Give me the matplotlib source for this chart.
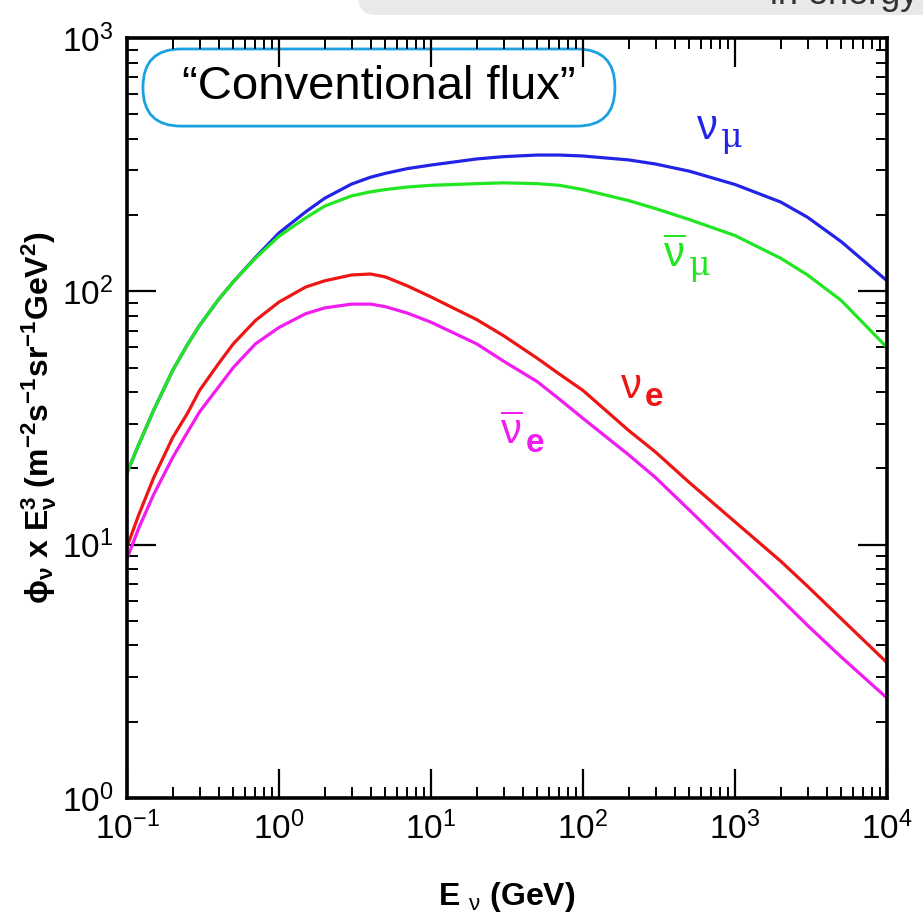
import matplotlib
matplotlib.use("Agg")
import matplotlib.pyplot as plt
from matplotlib import font_manager
from matplotlib.patches import FancyBboxPatch
from matplotlib.ticker import LogLocator, NullFormatter, FixedLocator, FixedFormatter

# neutrino energy grid (GeV)
energy = [0.1, 0.12, 0.15, 0.2, 0.25, 0.3, 0.4, 0.5, 0.7, 1, 1.5, 2, 3, 4, 5, 7, 10, 20, 30,
          50, 70, 100, 200, 300, 500, 1000, 2000, 3000, 5000, 10000]

# E^3 weighted conventional atmospheric flux, m^-2 s^-1 sr^-1 GeV^2
flux_numu = [19.2, 25.0, 34.0, 48.8, 61.6, 73.3, 92.8, 109, 136, 170, 206, 233, 265, 282,
             292, 305, 315, 333, 340, 345, 345, 342, 330, 318, 298, 264, 225, 196, 157, 110]
flux_numubar = [19.2, 25.0, 34.0, 48.8, 61.6, 73.3, 92.8, 109, 135, 165, 195, 217, 238, 247,
                252, 258, 262, 266, 268, 266, 262, 252, 228, 212, 192, 166, 135, 116, 92, 60]
flux_nue = [9.8, 13.2, 18.4, 26.5, 33.0, 40.6, 51.8, 62, 76.7, 90.7, 104, 110, 116, 117,
            114, 105, 95, 77.3, 66.8, 54.4, 47.1, 40.6, 28.2, 23.2, 17.6, 12.3, 8.6, 6.85, 5.1, 3.42]
flux_nuebar = [8.8, 11.7, 15.8, 22.1, 27.8, 33.4, 41.9, 50, 62, 72, 81.6, 86, 89, 89,
               87, 82, 75.5, 62, 53, 44, 37.5, 31.5, 22.6, 18.4, 13.7, 9.15, 6.1, 4.8, 3.6, 2.48]

x_ticks = [0.1, 1, 10, 100, 1000, 10000]
x_ticklabels = [r'$10^{-1}$', r'$10^{0}$', r'$10^{1}$', r'$10^{2}$', r'$10^{3}$', r'$10^{4}$']
y_ticks = [1, 10, 100, 1000]
y_ticklabels = [r'$10^{0}$', r'$10^{1}$', r'$10^{2}$', r'$10^{3}$']

names = {f.name for f in font_manager.fontManager.ttflist}
narrow = 'Liberation Sans Narrow' if 'Liberation Sans Narrow' in names else 'Liberation Sans'

plt.rcParams['font.family'] = [narrow, 'DejaVu Sans']
plt.rcParams['mathtext.fontset'] = 'custom'
plt.rcParams['mathtext.rm'] = narrow
plt.rcParams['mathtext.bf'] = narrow + ':bold'
plt.rcParams['mathtext.it'] = narrow + ':italic'

fig = plt.figure(figsize=(9.23, 9.19), dpi=100)
ax = fig.add_axes([0.1376, 0.1317, 0.8234, 0.827])

lw = 2.3
ax.plot(energy, flux_numu, color='#2323e8', lw=lw)
ax.plot(energy, flux_numubar, color='#22e622', lw=lw)
ax.plot(energy, flux_nue, color='#ee1515', lw=lw)
ax.plot(energy, flux_nuebar, color='#f01cf0', lw=lw)

ax.set_xscale('log')
ax.set_yscale('log')
ax.set_xlim(0.1, 10000)
ax.set_ylim(1, 1000)

ax.xaxis.set_major_locator(FixedLocator(x_ticks))
ax.xaxis.set_major_formatter(FixedFormatter(x_ticklabels))
ax.yaxis.set_major_locator(FixedLocator(y_ticks))
ax.yaxis.set_major_formatter(FixedFormatter(y_ticklabels))
ax.xaxis.set_minor_locator(LogLocator(base=10, subs=range(2, 10), numticks=20))
ax.yaxis.set_minor_locator(LogLocator(base=10, subs=range(2, 10), numticks=20))
ax.xaxis.set_minor_formatter(NullFormatter())
ax.yaxis.set_minor_formatter(NullFormatter())

ax.tick_params(which='both', direction='in', top=True, right=True, color='black')
ax.tick_params(which='major', length=21, width=1.6, labelsize=24, pad=10)
ax.tick_params(which='minor', length=8, width=1.4)
for s in ax.spines.values():
    s.set_linewidth(2.6)

ax.set_xlabel(r'E $_{\mathrm{\nu}}$ (GeV)', fontsize=23, fontweight='bold', labelpad=24)
ax.set_ylabel(r'$\mathbf{\phi_{\nu}\ x\ E_{\nu}^{3}\ (m^{-2}s^{-1}sr^{-1}GeV^{2})}$',
              fontsize=23, labelpad=2)


def flavour_label(x, y, sub, color, bar=False, bold_sub=False):
    nu = r'$\overline{\mathrm{\nu}}$' if bar else r'$\mathrm{\nu}$'
    ax.annotate(nu, (x, y), ha='center', va='baseline', fontsize=30, color=color,
                family='DejaVu Serif')
    if bold_sub:
        ax.annotate(sub, (x, y), xytext=(10, -6), textcoords='offset points',
                    ha='left', va='baseline', fontsize=24, color=color,
                    fontweight='bold', family=narrow)
    else:
        ax.annotate(sub, (x, y), xytext=(10, -6), textcoords='offset points',
                    ha='left', va='baseline', fontsize=24, color=color,
                    family='DejaVu Serif')


flavour_label(650, 400, 'μ', '#2323e8')
flavour_label(400, 125, 'μ', '#22e622', bar=True)
flavour_label(205, 38, 'e', '#ee1515', bold_sub=True)
flavour_label(34, 25, 'e', '#f01cf0', bar=True, bold_sub=True)

# pill-shaped caption box
box = FancyBboxPatch((0.021, 0.884), 0.621, 0.1015, transform=ax.transAxes,
                     boxstyle='round,pad=0,rounding_size=0.05',
                     facecolor='white', edgecolor='#1ba1e2', lw=2)
ax.add_patch(box)
ax.text(0.3315, 0.935, '\u201cConventional flux\u201d', transform=ax.transAxes,
        ha='center', va='center', fontsize=34, family='Liberation Sans')

# slide banner across the top edge
banner = FancyBboxPatch((358 / 923, 0.9837), 0.7, 0.1, transform=fig.transFigure,
                        boxstyle='round,pad=0,rounding_size=0.02',
                        facecolor='#e9e9e9', edgecolor='none', zorder=-1)
fig.patches.append(banner)
fig.text(918 / 923, 1 - 4 / 919, 'in energy', ha='right', va='baseline',
         fontsize=26, family='Liberation Sans', color='#333333')

fig.savefig('out.png', dpi=100)
